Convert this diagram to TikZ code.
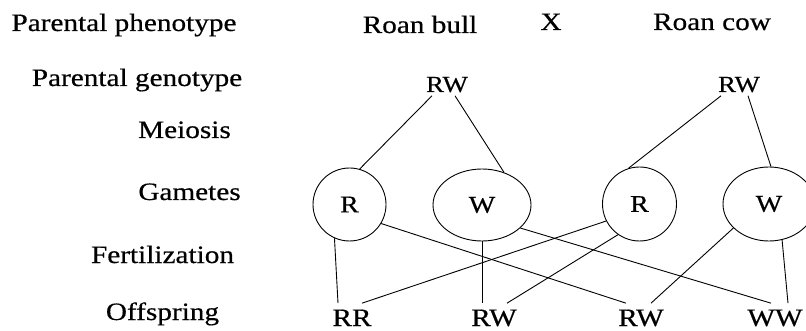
\documentclass[tikz,border=0pt]{standalone}
\usepackage{fontspec}
\setmainfont{Liberation Serif}[FakeStretch=1.17,FakeBold=0.5]
\usetikzlibrary{shapes.geometric}
\begin{document}
\begin{tikzpicture}[x=1pt,y=-1pt,line width=0.9pt,
  lab/.style={font=\fontsize{25}{30}\selectfont,inner sep=0pt,anchor=base},
  geno/.style={font=\fontsize{23}{28}\selectfont,inner sep=0pt,inner ysep=3pt,anchor=base},
  offs/.style={lab,inner xsep=0pt,inner ysep=6pt},
  gamr/.style={draw,circle,inner sep=0pt,font=\fontsize{24}{28}\selectfont},
  gamw/.style={draw,ellipse,inner sep=0pt,font=\fontsize{24}{28}\selectfont}]
\useasboundingbox (0,0) rectangle (806,331);
% row labels
\node[lab] (l1) at (124,31) {Parental phenotype};
\node[lab] (l2) at (137,86) {Parental genotype};
\node[lab] (l3) at (184.5,138) {Meiosis};
\node[lab] (l4) at (189.5,200) {Gametes};
\node[lab] (l5) at (162.5,263) {Fertilization};
\node[lab] (l6) at (162.5,320) {Offspring};
% parents
\node[lab] (bull) at (420,33) {Roan bull};
\node[lab] (cross) at (551,30) {X};
\node[lab] (cow) at (712,30) {Roan cow};
\node[geno] (rwa) at (447,92) {RW};
\node[geno] (rwb) at (739,92) {RW};
% gametes
\node[gamr,minimum size=73pt] (ra) at (349.5,204.5) {R};
\node[gamw,minimum width=98pt,minimum height=72pt] (wa) at (482,205) {W};
\node[gamr,minimum size=74pt] (rb) at (639.5,204) {R};
\node[gamw,minimum width=92pt,minimum height=74pt] (wb) at (769,204) {W};
% offspring
\node[offs] (rr) at (352,326) {RR};
\node[offs] (rwc) at (494,326) {RW};
\node[offs] (rwd) at (641,326) {RW};
\node[offs] (ww) at (775,326) {WW};
% meiosis
\draw ([xshift=-15pt]rwa.south) -- (ra.74);
\draw ([xshift=8pt]rwa.south) -- (wa.56);
\draw ([xshift=-18pt]rwb.south) -- (rb.107);
\draw ([xshift=9pt]rwb.south) -- (wb.87);
% fertilization
\draw (ra.246) -- ([xshift=-14pt]rr.north);
\draw (ra.-31) -- ([xshift=-15pt]rwd.north);
\draw (wa.south) -- ([xshift=-12pt]rwc.north);
\draw (wa.-31) -- ([xshift=-4pt]ww.north);
\draw (rb.-153) -- ([xshift=10pt]rr.north);
\draw (rb.-125) -- ([xshift=13pt]rwc.north);
\draw (wb.-146) -- ([xshift=10pt]rwd.north);
\draw (wb.-70) -- ([xshift=13pt]ww.north);
\end{tikzpicture}
\end{document}
